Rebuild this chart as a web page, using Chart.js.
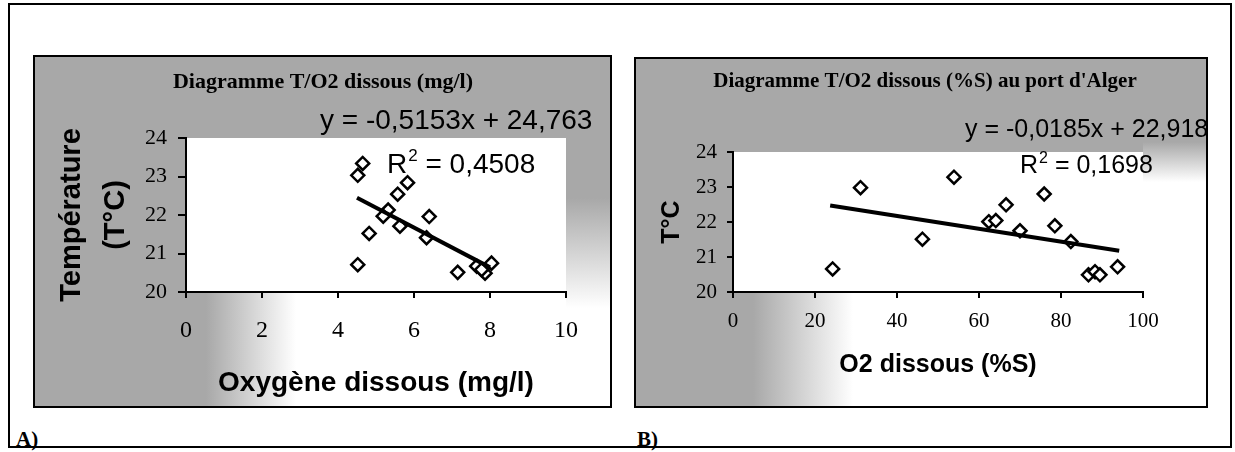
<!DOCTYPE html>
<html><head><meta charset="utf-8">
<script src="https://cdn.jsdelivr.net/npm/chart.js@4.4.1/dist/chart.umd.min.js"></script>
<style>
html,body{margin:0;padding:0;background:#fff;width:1235px;height:452px;overflow:hidden;}
body{position:relative;}
#frame{position:absolute;left:8px;top:3px;width:1224px;height:445px;border:2px solid #000;box-sizing:border-box;}
.panel{position:absolute;}
#pa{left:33px;top:55px;}
#pb{left:634px;top:57px;}
.lbl{position:absolute;font:bold 21px "Liberation Serif",serif;color:#000;line-height:1;}
</style></head>
<body>
<div id="frame"></div>
<canvas id="pa" class="panel" width="579" height="353"></canvas>
<canvas id="pb" class="panel" width="574" height="351"></canvas>
<div class="lbl" style="left:16px;top:429px;">A)</div>
<div class="lbl" style="left:637px;top:429px;">B)</div>
<script>
// ---- Panel A data: T vs dissolved O2 (mg/l)
const o2mg = [4.52, 4.65, 5.83, 5.57, 5.32, 5.19, 5.63, 6.40, 4.82, 6.33, 4.52, 7.15, 7.65, 7.87, 8.04, 7.78];
const tempA = [23.03, 23.34, 22.84, 22.54, 22.13, 21.97, 21.71, 21.96, 21.52, 21.41, 20.71, 20.51, 20.67, 20.49, 20.75, 20.58];
const trendAx = [4.5, 8.0];
const trendAy = [22.45, 20.64];
const ticksAx = [0, 2, 4, 6, 8, 10];
const ticksAy = [20, 21, 22, 23, 24];

// ---- Panel B data: T vs dissolved O2 (%S)
const o2pct = [24.3, 31.1, 46.2, 53.9, 62.4, 64.1, 66.6, 70.0, 75.9, 78.5, 82.4, 86.7, 88.3, 89.5, 93.8];
const tempB = [20.66, 22.98, 21.51, 23.28, 22.01, 22.04, 22.49, 21.75, 22.80, 21.89, 21.44, 20.49, 20.58, 20.49, 20.72];
const trendBx = [23.7, 94.2];
const trendBy = [22.47, 21.18];
const ticksBx = [0, 20, 40, 60, 80, 100];
const ticksBy = [20, 21, 22, 23, 24];

const SERIF = '"Liberation Serif", "Times New Roman", serif';
const SANS = '"Liberation Sans", Arial, sans-serif';
const GRAY = '#a8a8a8';

function pts(xs, ys){ return xs.map((x,i)=>({x:x, y:ys[i]})); }

function panelPlugin(opts){
  return {
    id: 'panel_' + opts.name,
    beforeDraw(chart){
      const {ctx, width, height, chartArea:a} = chart;
      ctx.save();
      ctx.fillStyle = GRAY;
      ctx.fillRect(0,0,width,height);
      const x0 = a.left + opts.bottomFadeStart;
      let g = ctx.createLinearGradient(x0,0,x0+opts.bottomFade,0);
      g.addColorStop(0, GRAY); g.addColorStop(1, '#ffffff');
      ctx.fillStyle = g;
      ctx.fillRect(x0, a.bottom, width-x0, height-a.bottom);
      const y0 = a.top + opts.rightFadeStart;
      g = ctx.createLinearGradient(0,y0,0,y0+opts.rightFade);
      g.addColorStop(0, GRAY); g.addColorStop(1, '#ffffff');
      ctx.fillStyle = g;
      ctx.fillRect(a.right, y0, width-a.right, height-y0);
      ctx.fillStyle = '#ffffff';
      ctx.fillRect(a.left, a.top, a.right-a.left, a.bottom-a.top);
      ctx.restore();
    },
    afterDraw(chart){
      const {ctx, width, height} = chart;
      ctx.save();
      ctx.fillStyle = '#000';
      ctx.font = 'bold ' + opts.titleSize + 'px ' + SERIF;
      ctx.textAlign = 'center';
      ctx.textBaseline = 'middle';
      ctx.fillText(opts.title, opts.titleX, opts.titleY);
      ctx.textAlign = 'left';
      ctx.textBaseline = 'alphabetic';
      ctx.font = opts.eqSize + 'px ' + SANS;
      ctx.fillText(opts.eq, opts.eqX, opts.eqY);
      let x = opts.r2X;
      ctx.fillText('R', x, opts.r2Y);
      x += ctx.measureText('R').width + 1;
      ctx.font = Math.round(opts.eqSize*0.62) + 'px ' + SANS;
      ctx.fillText('2', x, opts.r2Y - opts.eqSize*0.42);
      x += ctx.measureText('2').width;
      ctx.font = opts.eqSize + 'px ' + SANS;
      ctx.fillText(' = ' + opts.r2, x, opts.r2Y);
      ctx.strokeStyle = '#000';
      ctx.lineWidth = 2;
      ctx.strokeRect(1,1,width-2,height-2);
      ctx.restore();
    }
  };
}

function makeChart(id, cfg){
  return new Chart(document.getElementById(id), {
    type: 'scatter',
    data: {
      datasets: [
        {
          data: pts(cfg.xs, cfg.ys),
          pointStyle: 'rectRot', pointRadius: 6.5, pointBorderWidth: 2.5,
          pointBackgroundColor: '#ffffff', pointBorderColor: '#000000',
          showLine: false, order: 2
        },
        {
          data: pts(cfg.tx, cfg.ty),
          showLine: true, borderColor: '#000', borderWidth: 4,
          pointRadius: 0, order: 1
        }
      ]
    },
    options: {
      responsive: false, animation: false, devicePixelRatio: 1,
      layout: { padding: cfg.padding },
      plugins: { legend: {display:false}, tooltip: {enabled:false}, title:{display:false} },
      scales: {
        x: {
          type: 'linear', min: cfg.ticksX[0], max: cfg.ticksX[cfg.ticksX.length-1],
          afterBuildTicks(s){ s.ticks = cfg.ticksX.map(v=>({value:v})); },
          afterFit(s){ s.height = cfg.xAxisH; },
          border: {display:true, color:'#000', width:2},
          grid: {display:true, drawOnChartArea:false, drawTicks:true, tickLength:6, color:'#000', lineWidth:2},
          ticks: {color:'#000', font:{family:SERIF, size:cfg.xTickSize}, padding:cfg.xTickPad, maxRotation:0, autoSkip:false},
          title: {display:true, text:cfg.xTitle, color:'#000', font:{family:SANS, size:cfg.xTitleSize, weight:'bold'}, padding:{top:0, bottom:cfg.xTitlePad}}
        },
        y: {
          type: 'linear', min: cfg.ticksY[0], max: cfg.ticksY[cfg.ticksY.length-1],
          afterBuildTicks(s){ s.ticks = cfg.ticksY.map(v=>({value:v})); },
          afterFit(s){ s.width = cfg.yAxisW; },
          border: {display:true, color:'#000', width:2},
          grid: {display:true, drawOnChartArea:false, drawTicks:true, tickLength:cfg.yTickLen, color:'#000', lineWidth:2},
          ticks: {color:'#000', font:{family:SERIF, size:cfg.yTickSize}, padding:cfg.yTickPad, autoSkip:false},
          title: {display:true, text:cfg.yTitle, color:'#000', font:{family:SANS, size:cfg.yTitleSize, weight:'bold', lineHeight:cfg.yTitleLH}, padding:{top:cfg.yTitlePad, bottom:0}}
        }
      }
    },
    plugins: [panelPlugin(cfg.panel)]
  });
}

makeChart('pa', {
  xs: o2mg, ys: tempA, tx: trendAx, ty: trendAy, ticksX: ticksAx, ticksY: ticksAy,
  padding: {left:0, top:83, right:46, bottom:0},
  xAxisH: 116, yAxisW: 153,
  xTickSize: 24, xTickPad: 18, yTickSize: 22, yTickPad: 11, yTickLen: 8,
  xTitle: 'Oxygène dissous (mg/l)', xTitleSize: 28, xTitlePad: 8,
  yTitle: ['Température', '(T°C)'], yTitleSize: 29, yTitleLH: 1.52, yTitlePad: 17,
  panel: {
    name: 'A', title: 'Diagramme T/O2 dissous (mg/l)', titleSize: 22, titleX: 290, titleY: 27,
    eq: 'y = -0,5153x + 24,763', eqSize: 28, eqX: 287, eqY: 74,
    r2: '0,4508', r2X: 354, r2Y: 118,
    bottomFadeStart: 20, bottomFade: 90, rightFadeStart: 60, rightFade: 110
  }
});

makeChart('pb', {
  xs: o2pct, ys: tempB, tx: trendBx, ty: trendBy, ticksX: ticksBx, ticksY: ticksBy,
  padding: {left:0, top:95, right:65, bottom:0},
  xAxisH: 116, yAxisW: 99,
  xTickSize: 21, xTickPad: 11, yTickSize: 21, yTickPad: 10, yTickLen: 6,
  xTitle: 'O2 dissous (%S)', xTitleSize: 25, xTitlePad: 28,
  yTitle: 'T°C', yTitleSize: 25, yTitleLH: 1.2, yTitlePad: 23,
  panel: {
    name: 'B', title: "Diagramme T/O2 dissous (%S) au port d'Alger", titleSize: 21, titleX: 291, titleY: 25,
    eq: 'y = -0,0185x + 22,918', eqSize: 25, eqX: 331, eqY: 80,
    r2: '0,1698', r2X: 386, r2Y: 116,
    bottomFadeStart: 20, bottomFade: 100, rightFadeStart: -10, rightFade: 40
  }
});
</script>
</body></html>
